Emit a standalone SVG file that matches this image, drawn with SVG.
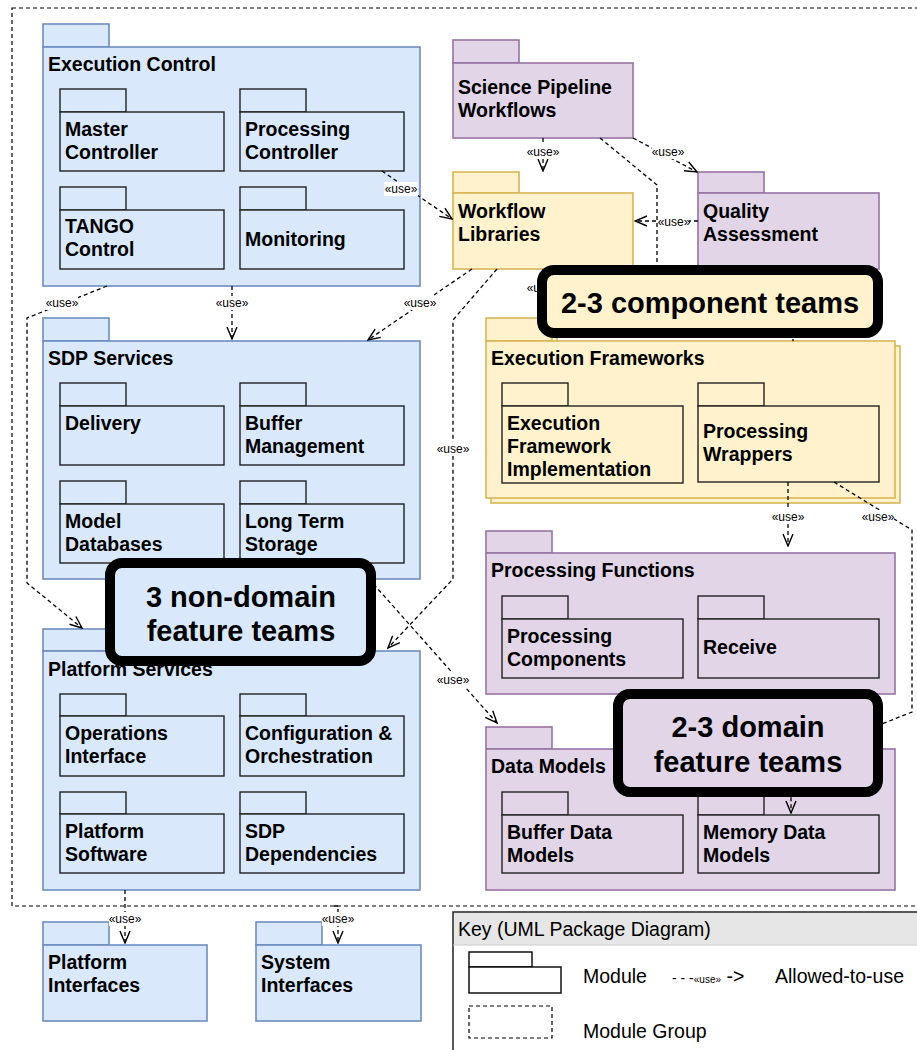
<svg xmlns="http://www.w3.org/2000/svg" width="917" height="1050" viewBox="0 0 917 1050">
<defs>
<style>
.blue{fill:#dae8fc;stroke:#6c8ebf;stroke-width:1.6}
.purple{fill:#e1d5e7;stroke:#9673a6;stroke-width:1.6}
.yellow{fill:#fff2cc;stroke:#d6b656;stroke-width:1.6}
.ib{fill:#dae8fc;stroke:#222;stroke-width:1.4}
.ip{fill:#e1d5e7;stroke:#222;stroke-width:1.4}
.iy{fill:#fff2cc;stroke:#222;stroke-width:1.4}
.t{font-family:"Liberation Sans",Arial,Helvetica,sans-serif;font-weight:bold;font-size:19.5px;fill:#000}
.r{font-family:"Liberation Sans",Arial,Helvetica,sans-serif;font-size:19.5px;fill:#000}
.lbl{font-family:"Liberation Sans",Arial,Helvetica,sans-serif;font-size:12px;fill:#000;text-anchor:middle}
.lb{fill:#fff;stroke:none}
.conn{fill:none;stroke:#000;stroke-width:1.3;stroke-dasharray:4 3}
.grp{fill:none;stroke:#000;stroke-width:1.2;stroke-dasharray:4 3}
.callout{stroke:#000;stroke-width:10}
.big{font-family:"Liberation Sans",Arial,Helvetica,sans-serif;font-weight:bold;font-size:29px;fill:#000;text-anchor:middle}
</style>
<marker id="arr" viewBox="0 0 14 12" refX="13" refY="6" markerWidth="14" markerHeight="12" markerUnits="userSpaceOnUse" orient="auto">
<path d="M1,1 L13,6 L1,11" fill="none" stroke="#000" stroke-width="1.4"/>
</marker>
</defs>
<rect width="917" height="1050" fill="#fff"/>

<!-- Module group (dashed) -->
<g id="module-group">
<rect class="grp" x="12" y="8" width="930" height="898"/>
</g>

<!-- Execution Control -->
<g id="execution-control">
<rect class="blue" x="43" y="24" width="66" height="23"/>
<rect class="blue" x="43" y="47" width="377" height="239"/>
<text class="t" x="48" y="71">Execution Control</text>
<rect class="ib" x="60" y="89" width="66" height="23"/><rect class="ib" x="60" y="112" width="164" height="59"/>
<text class="t" x="65" y="136">Master</text><text class="t" x="65" y="159">Controller</text>
<rect class="ib" x="240" y="89" width="66" height="23"/><rect class="ib" x="240" y="112" width="164" height="59"/>
<text class="t" x="245" y="136">Processing</text><text class="t" x="245" y="159">Controller</text>
<rect class="ib" x="60" y="187" width="66" height="23"/><rect class="ib" x="60" y="210" width="164" height="59"/>
<text class="t" x="65" y="233">TANGO</text><text class="t" x="65" y="256">Control</text>
<rect class="ib" x="240" y="187" width="66" height="23"/><rect class="ib" x="240" y="210" width="164" height="59"/>
<text class="t" x="245" y="246">Monitoring</text>
</g>

<!-- SDP Services -->
<g id="sdp-services">
<rect class="blue" x="43" y="318" width="66" height="23"/>
<rect class="blue" x="43" y="341" width="377" height="238"/>
<text class="t" x="48" y="365">SDP Services</text>
<rect class="ib" x="60" y="383" width="66" height="23"/><rect class="ib" x="60" y="406" width="164" height="59"/>
<text class="t" x="65" y="430">Delivery</text>
<rect class="ib" x="240" y="383" width="66" height="23"/><rect class="ib" x="240" y="406" width="164" height="59"/>
<text class="t" x="245" y="430">Buffer</text><text class="t" x="245" y="453">Management</text>
<rect class="ib" x="60" y="481" width="66" height="23"/><rect class="ib" x="60" y="504" width="164" height="59"/>
<text class="t" x="65" y="528">Model</text><text class="t" x="65" y="551">Databases</text>
<rect class="ib" x="240" y="481" width="66" height="23"/><rect class="ib" x="240" y="504" width="164" height="59"/>
<text class="t" x="245" y="528">Long Term</text><text class="t" x="245" y="551">Storage</text>
</g>

<!-- Platform Services -->
<g id="platform-services">
<rect class="blue" x="43" y="629" width="66" height="22"/>
<rect class="blue" x="43" y="651" width="377" height="239"/>
<text class="t" x="48" y="676">Platform Services</text>
<rect class="ib" x="60" y="694" width="66" height="22"/><rect class="ib" x="60" y="716" width="164" height="60"/>
<text class="t" x="65" y="740">Operations</text><text class="t" x="65" y="763">Interface</text>
<rect class="ib" x="240" y="694" width="66" height="22"/><rect class="ib" x="240" y="716" width="164" height="60"/>
<text class="t" x="245" y="740">Configuration &amp;</text><text class="t" x="245" y="763">Orchestration</text>
<rect class="ib" x="60" y="792" width="66" height="22"/><rect class="ib" x="60" y="814" width="164" height="59"/>
<text class="t" x="65" y="838">Platform</text><text class="t" x="65" y="861">Software</text>
<rect class="ib" x="240" y="792" width="66" height="22"/><rect class="ib" x="240" y="814" width="164" height="59"/>
<text class="t" x="245" y="838">SDP</text><text class="t" x="245" y="861">Dependencies</text>
</g>

<!-- Platform Interfaces -->
<g id="platform-interfaces">
<rect class="blue" x="43" y="922" width="66" height="23"/>
<rect class="blue" x="43" y="945" width="164" height="76"/>
<text class="t" x="48" y="969">Platform</text><text class="t" x="48" y="992">Interfaces</text>
</g>

<!-- System Interfaces -->
<g id="system-interfaces">
<rect class="blue" x="256" y="922" width="66" height="23"/>
<rect class="blue" x="256" y="945" width="165" height="76"/>
<text class="t" x="261" y="969">System</text><text class="t" x="261" y="992">Interfaces</text>
</g>

<!-- Science Pipeline Workflows -->
<g id="science-pipeline-workflows">
<rect class="purple" x="453" y="40" width="66" height="23"/>
<rect class="purple" x="453" y="63" width="180" height="75"/>
<text class="t" x="458" y="94">Science Pipeline</text><text class="t" x="458" y="117">Workflows</text>
</g>

<!-- Workflow Libraries -->
<g id="workflow-libraries">
<rect class="yellow" x="453" y="172" width="66" height="21"/>
<rect class="yellow" x="453" y="193" width="180" height="76"/>
<text class="t" x="458" y="218">Workflow</text><text class="t" x="458" y="241">Libraries</text>
</g>

<!-- Quality Assessment -->
<g id="quality-assessment">
<rect class="purple" x="698" y="172" width="66" height="21"/>
<rect class="purple" x="698" y="193" width="181" height="76"/>
<text class="t" x="703" y="218">Quality</text><text class="t" x="703" y="241">Assessment</text>
</g>

<!-- Execution Frameworks -->
<g id="execution-frameworks">
<rect class="yellow" x="491" y="323" width="66" height="23"/>
<rect class="yellow" x="491" y="346" width="409" height="157"/>
<rect class="yellow" x="486" y="318" width="66" height="23"/>
<rect class="yellow" x="486" y="341" width="409" height="157"/>
<text class="t" x="491" y="365">Execution Frameworks</text>
<rect class="iy" x="502" y="383" width="66" height="23"/><rect class="iy" x="502" y="406" width="181" height="77"/>
<text class="t" x="507" y="430">Execution</text><text class="t" x="507" y="453">Framework</text><text class="t" x="507" y="476">Implementation</text>
<rect class="iy" x="698" y="383" width="66" height="23"/><rect class="iy" x="698" y="406" width="181" height="76"/>
<text class="t" x="703" y="438">Processing</text><text class="t" x="703" y="461">Wrappers</text>
</g>

<!-- Processing Functions -->
<g id="processing-functions">
<rect class="purple" x="486" y="531" width="66" height="22"/>
<rect class="purple" x="486" y="553" width="409" height="141"/>
<text class="t" x="491" y="577">Processing Functions</text>
<rect class="ip" x="502" y="596" width="66" height="23"/><rect class="ip" x="502" y="619" width="181" height="59"/>
<text class="t" x="507" y="643">Processing</text><text class="t" x="507" y="666">Components</text>
<rect class="ip" x="698" y="596" width="66" height="23"/><rect class="ip" x="698" y="619" width="181" height="59"/>
<text class="t" x="703" y="654">Receive</text>
</g>

<!-- Data Models -->
<g id="data-models">
<rect class="purple" x="486" y="727" width="66" height="22"/>
<rect class="purple" x="486" y="749" width="409" height="141"/>
<text class="t" x="491" y="773">Data Models</text>
<rect class="ip" x="502" y="792" width="66" height="23"/><rect class="ip" x="502" y="815" width="181" height="58"/>
<text class="t" x="507" y="839">Buffer Data</text><text class="t" x="507" y="862">Models</text>
<rect class="ip" x="698" y="792" width="66" height="23"/><rect class="ip" x="698" y="815" width="181" height="58"/>
<text class="t" x="703" y="839">Memory Data</text><text class="t" x="703" y="862">Models</text>
</g>

<!-- Connectors -->
<g id="connectors">
<path class="conn" d="M543,138 L543,171" marker-end="url(#arr)"/>
<path class="conn" d="M633,138 L697,172" marker-end="url(#arr)"/>
<path class="conn" d="M600,138 L657,185 L657,336"/>
<path class="conn" d="M698,221 L635,221" marker-end="url(#arr)"/>
<path class="conn" d="M382,171 L452,219" marker-end="url(#arr)"/>
<path class="conn" d="M543,269 L543,317" marker-end="url(#arr)"/>
<path class="conn" d="M793,269 L793,341"/>
<path class="conn" d="M472,269 L368,340" marker-end="url(#arr)"/>
<path class="conn" d="M497,269 L453,320 L453,579 L388,648" marker-end="url(#arr)"/>
<path class="conn" d="M232,286 L232,339" marker-end="url(#arr)"/>
<path class="conn" d="M107,286 L27,318 L27,583 L82,628" marker-end="url(#arr)"/>
<path class="conn" d="M369,579 L497,723" marker-end="url(#arr)"/>
<path class="conn" d="M788,482 L788,546" marker-end="url(#arr)"/>
<path class="conn" d="M834,482 L912,530 L912,712 L791,760 L791,813" marker-end="url(#arr)"/>
<path class="conn" d="M125,890 L125,943" marker-end="url(#arr)"/>
<path class="conn" d="M334,906 L338,906 L338,943" marker-end="url(#arr)"/>
<rect class="lb" x="527" y="145" width="32" height="14"/><text class="lbl" x="543" y="156">«use»</text>
<rect class="lb" x="652" y="145" width="32" height="14"/><text class="lbl" x="668" y="156">«use»</text>
<rect class="lb" x="659" y="215" width="30" height="14"/><text class="lbl" x="674" y="226">«use»</text>
<rect class="lb" x="384" y="182" width="34" height="14"/><text class="lbl" x="401" y="193">«use»</text>
<rect class="lb" x="527" y="281" width="32" height="14"/><text class="lbl" x="543" y="292">«use»</text>
<rect class="lb" x="404" y="296" width="32" height="14"/><text class="lbl" x="420" y="307">«use»</text>
<rect class="lb" x="437" y="442" width="32" height="14"/><text class="lbl" x="453" y="453">«use»</text>
<rect class="lb" x="216" y="296" width="32" height="14"/><text class="lbl" x="232" y="307">«use»</text>
<rect class="lb" x="46" y="296" width="32" height="14"/><text class="lbl" x="62" y="307">«use»</text>
<rect class="lb" x="437" y="673" width="32" height="14"/><text class="lbl" x="453" y="684">«use»</text>
<rect class="lb" x="772" y="510" width="32" height="14"/><text class="lbl" x="788" y="521">«use»</text>
<rect class="lb" x="862" y="510" width="32" height="14"/><text class="lbl" x="878" y="521">«use»</text>
<rect class="lb" x="109" y="912" width="32" height="14"/><text class="lbl" x="125" y="923">«use»</text>
<rect class="lb" x="322" y="912" width="32" height="14"/><text class="lbl" x="338" y="923">«use»</text>
</g>

<!-- Callouts -->
<g id="callout-component-teams">
<rect class="callout" x="542" y="270" width="336" height="63" rx="12" fill="#fff2cc"/>
<text class="big" x="710" y="313">2-3 component teams</text>
</g>
<g id="callout-non-domain">
<rect class="callout" x="110" y="563" width="261" height="98" rx="12" fill="#dae8fc"/>
<text class="big" x="241" y="607">3 non-domain</text>
<text class="big" x="241" y="641">feature teams</text>
</g>
<g id="callout-domain">
<rect class="callout" x="618" y="694" width="260" height="98" rx="12" fill="#e1d5e7"/>
<text class="big" x="748" y="737">2-3 domain</text>
<text class="big" x="748" y="772">feature teams</text>
</g>

<!-- Key -->
<g id="key">
<rect x="453" y="912" width="480" height="150" fill="#fff" stroke="#222" stroke-width="1.5"/>
<rect x="454" y="913" width="470" height="32" fill="#e6e6e6"/>
<line x1="453" y1="945" x2="917" y2="945" stroke="#ccc" stroke-width="1"/>
<text class="r" x="458" y="936">Key (UML Package Diagram)</text>
<rect x="469" y="952" width="63" height="15" fill="#fff" stroke="#000" stroke-width="1.4"/>
<rect x="469" y="967" width="92" height="26" fill="#fff" stroke="#000" stroke-width="1.4"/>
<text class="r" x="583" y="983">Module</text>
<text class="r" x="672" y="983"><tspan font-size="14">- - -</tspan><tspan font-size="10">«use»</tspan><tspan> -&gt;</tspan></text>
<text class="r" x="775" y="983">Allowed-to-use</text>
<rect class="grp" x="469" y="1006" width="83" height="32"/>
<text class="r" x="583" y="1038">Module Group</text>
</g>
</svg>
